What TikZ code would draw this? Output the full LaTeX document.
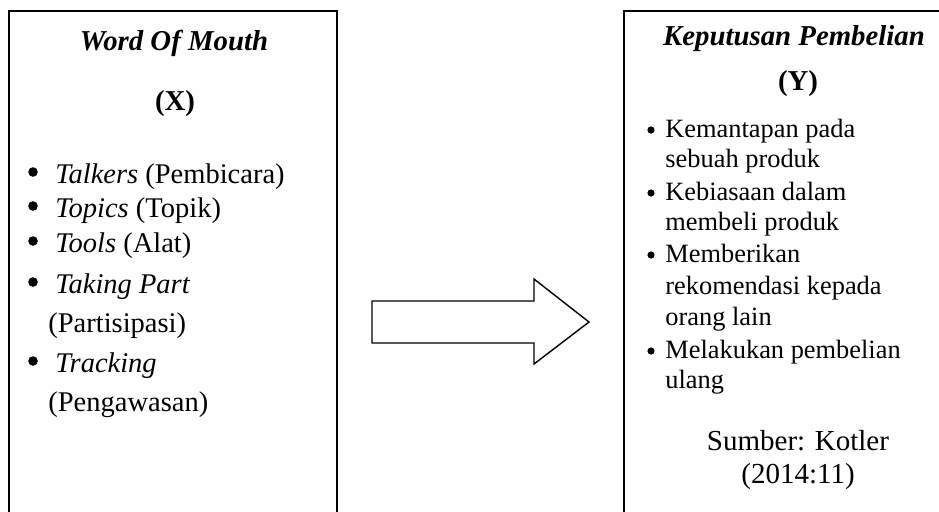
\documentclass[tikz,border=0pt]{standalone}
\usepackage{fontspec}
\setmainfont{Liberation Serif}

\tikzset{
  line/.style={line width=1pt},
  head/.style={anchor=base, inner sep=0pt, font=\fontsize{14.4}{16}\selectfont\bfseries},
  item/.style={anchor=base west, inner sep=0pt, font=\fontsize{14.25}{16}\selectfont},
  itemr/.style={anchor=base west, inner sep=0pt, font=\fontsize{13.2}{15}\selectfont},
  src/.style={anchor=base, inner sep=0pt, font=\fontsize{14.5}{16}\selectfont},
  dotl/.style={circle, fill, inner sep=0pt, minimum size=4.8pt},
  dotr/.style={circle, fill, inner sep=0pt, minimum size=3.6pt}
}

\begin{document}
\begin{tikzpicture}[x=0.5pt, y=-0.5pt]
\useasboundingbox (0,0) rectangle (939,511);

% kotak kiri dan kanan
\draw[line] (8.5,515) -- (8.5,10.5) -- (337,10.5) -- (337,515);
\draw[line] (624,515) -- (624,10.5) -- (945,10.5);

% panah
\draw[line width=0.7pt] (372,301) -- (534,301) -- (534,279) -- (589,322)
  -- (534,364) -- (534,343) -- (372,343) -- cycle;

% variabel X
\node[head] (wom) at (174,50) {\itshape Word Of Mouth};
\node[head] (x) at (175,110) {(X)};
\node[dotl] (b1) at (33,172) {};
\node[item] (t1) at (55,183) {\itshape Talkers \upshape(Pembicara)};
\node[dotl] (b2) at (33,206) {};
\node[item] (t2) at (55,217) {\itshape Topics \upshape(Topik)};
\node[dotl] (b3) at (33,241) {};
\node[item] (t3) at (55,252) {\itshape Tools \upshape(Alat)};
\node[dotl] (b4) at (33,282) {};
\node[item] (t4) at (55,293) {\itshape Taking Part};
\node[item] (t4b) at (48,332) {(Partisipasi)};
\node[dotl] (b5) at (33,361) {};
\node[item] (t5) at (55,372) {\itshape Tracking};
\node[item] (t5b) at (48,411) {(Pengawasan)};

% variabel Y
\node[head] (kp) at (794,45) {\itshape Keputusan Pembelian};
\node[head] (y) at (798,90) {(Y)};
\node[dotr] (c1) at (651,130) {};
\node[itemr] (s1) at (665,137) {Kemantapan pada};
\node[itemr] (s1b) at (665,167) {sebuah produk};
\node[dotr] (c2) at (651,193) {};
\node[itemr] (s2) at (665,200) {Kebiasaan dalam};
\node[itemr] (s2b) at (665,230) {membeli produk};
\node[dotr] (c3) at (651,255) {};
\node[itemr] (s3) at (665,262) {Memberikan};
\node[itemr] (s3b) at (665,294) {rekomendasi kepada};
\node[itemr] (s3c) at (665,325) {orang lain};
\node[dotr] (c4) at (651,351) {};
\node[itemr] (s4) at (665,358) {Melakukan pembelian};
\node[itemr] (s4b) at (665,388) {ulang};
\node[src] (sb) at (798,450) {Sumber: Kotler};
\node[src] (th) at (798,483) {(2014:11)};
\end{tikzpicture}
\end{document}
